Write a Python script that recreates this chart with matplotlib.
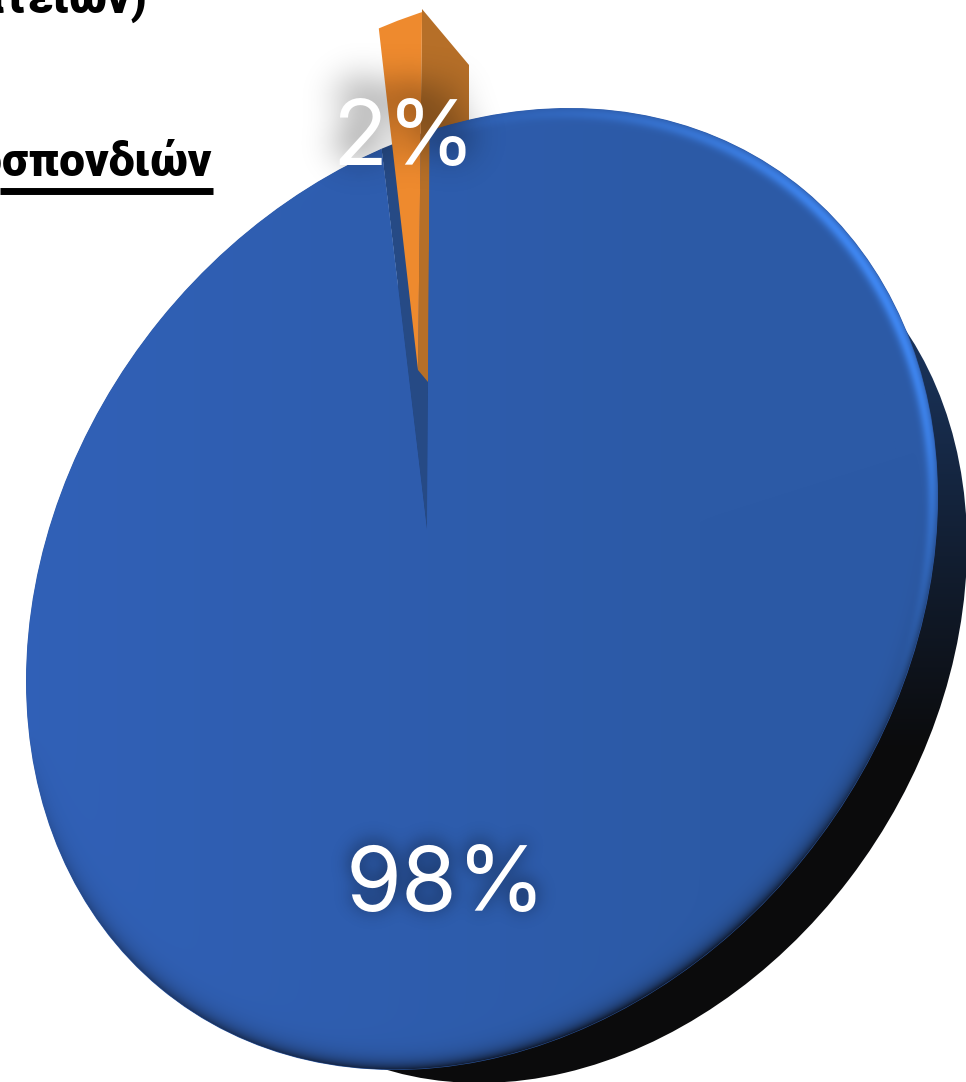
import numpy as np
import matplotlib
matplotlib.use("Agg")
import matplotlib.pyplot as plt
from matplotlib.path import Path
from matplotlib.patches import PathPatch, Wedge, Polygon
from matplotlib.transforms import Affine2D
from matplotlib.colors import to_rgb

# chart values
labels = ["98%", "2%"]
shares = [98, 2]
slice_colors = ["#2e5cab", "#ee8a2e"]
header_top = "Σωματείων)"
header_under = "Ομοσπονδιών"

W, H = 966, 1082
fig = plt.figure(figsize=(W / 100, H / 100), dpi=100)
ax = fig.add_axes([0, 0, 1, 1])

label_font = "Inter"
label_size = 65


# tilted ellipse, from its extreme points in the picture
def ellipse_matrix(sx, sy, sxy):
    return np.linalg.cholesky(np.array([[sx ** 2, sxy], [sxy, sy ** 2]]))


def ellipse_patch(center, mat):
    m = np.eye(3)
    m[:2, :2] = mat
    m[0, 2], m[1, 2] = center
    path = Path.unit_circle().transformed(Affine2D(m))
    patch = PathPatch(path, transform=ax.transData, fc="none", ec="none")
    ax.add_patch(patch)
    return patch


cx, cy = 482, 589
A = ellipse_matrix(456, 481, -42000)

yy, xx = np.mgrid[0:H, 0:W] + 0.5
extent = (0, W, H, 0)

# dark extruded body behind the top
body_clip = ellipse_patch((565, 640), ellipse_matrix(402, 443, -38000))
t = np.clip((yy - 250) / 500, 0, 1)[..., None]
body_img = (1 - t) * np.array(to_rgb("#1d3c6c")) + t * np.array(to_rgb("#0b0b0c"))
im = ax.imshow(body_img, extent=extent, zorder=1, interpolation="bilinear")
im.set_clip_path(body_clip)

# slices: angles come from the shares, the far reaching wedges are cut by the ellipse
apex = (427, 530)
start = 270.4
face = ellipse_patch((cx, cy), A)
sweep = 360 * shares[1] / sum(shares)
wall = Wedge(apex, 1500, start - sweep, start, fc="#264a85", ec="none", zorder=2)
ax.add_patch(wall)
wall.set_clip_path(face)

# exploded small slice with its side wall
side = Polygon([(422, 9), (469, 65), (469, 130), (428, 382), (418, 370)],
               fc="#b66f28", ec="none", zorder=3)
ax.add_patch(side)
lifted = ellipse_patch((cx - 6, cy - 119), A)
small = Wedge((418, 370), 600, start + 0.25 - sweep, start + 0.25, fc=slice_colors[1],
              ec="none", zorder=4)
ax.add_patch(small)
small.set_clip_path(lifted)

big = Wedge(apex, 1500, start, start - sweep + 360, fc=slice_colors[0], ec="none", zorder=5)
ax.add_patch(big)
big.set_clip_path(face)

# shading of the main slice: lit rim upper right, dark rim along the bottom
inv = np.linalg.inv(A)
dx, dy = xx - cx, yy - cy
ux = inv[0, 0] * dx + inv[0, 1] * dy
uy = inv[1, 0] * dx + inv[1, 1] * dy
r = np.hypot(ux, uy)
nx, ny = ux / np.maximum(r, 1e-6), uy / np.maximum(r, 1e-6)
sdx, sdy = A[0, 0] * nx + A[0, 1] * ny, A[1, 0] * nx + A[1, 1] * ny
sn = np.hypot(sdx, sdy)
sdx, sdy = sdx / sn, sdy / sn
edge = np.clip(1 - r, 0, 1)
lit = np.clip(sdx * 0.80 - sdy * 0.60, 0, 1) ** 4 * np.exp(-((edge - 0.012) / 0.012) ** 2)
shade = np.clip(sdx * 0.30 + sdy * 0.95, 0, 1) * np.exp(-edge / 0.016)
left = np.clip((700 - xx) / 700, 0, 1)[..., None]
face_img = (left * np.array(to_rgb("#3161b8")) + (1 - left) * np.array(to_rgb("#2c5aa6")))
lit, shade = lit[..., None], shade[..., None]
face_img = face_img * (1 - lit) + np.array(to_rgb("#3f86f0")) * lit
face_img = face_img * (1 - shade) + np.array(to_rgb("#0c1220")) * shade
# the image fades out at the rim, the wedge under it keeps the cut
face_rgba = np.dstack([face_img, np.clip((1 - r) * 450, 0, 1)])
im2 = ax.imshow(face_rgba, extent=extent, zorder=6, interpolation="bilinear")
im2.set_clip_path(big)


# blurred dark copy of a label, standing in for the text glow
def glow(text, x, y, sigma, power, off):
    tmp = plt.figure(figsize=(W / 100, H / 100), dpi=100)
    tmp.text(x / W, 1 - (y + off) / H, text, fontsize=label_size, ha="center", va="baseline",
             family=label_font, color="k")
    tmp.canvas.draw()
    a = 1 - np.asarray(tmp.canvas.buffer_rgba())[..., 0] / 255.0
    plt.close(tmp)
    k = np.exp(-0.5 * (np.arange(-3 * sigma, 3 * sigma + 1) / sigma) ** 2)
    k /= k.sum()
    a = np.apply_along_axis(lambda c: np.convolve(c, k, mode="same"), 0, a)
    a = np.apply_along_axis(lambda c: np.convolve(c, k, mode="same"), 1, a)
    rgba = np.zeros((H, W, 4))
    rgba[..., 3] = np.clip(a * power, 0, 0.6)
    ax.imshow(rgba, extent=extent, zorder=7, interpolation="bilinear")


glow(labels[1], 404, 165, 18, 1.0, -14)
glow(labels[0], 446, 911, 9, 0.6, -3)

ax.text(404, 165, labels[1], color="white", fontsize=label_size, ha="center", va="baseline",
        family=label_font, zorder=8)
ax.text(446, 911, labels[0], color="white", fontsize=label_size, ha="center", va="baseline",
        family=label_font, zorder=8)

# clipped headings of the page behind the chart
head_font = dict(family="Roboto", fontweight="black",
                 color="black", ha="right", va="baseline", zorder=9)
ax.text(147, 13, header_top, fontsize=33, **head_font)
ax.text(212, 176, header_under, fontsize=33, **head_font)
ax.plot([0, 213], [190.5, 190.5], color="black", lw=5, solid_capstyle="butt", zorder=9)

ax.set_xlim(0, W)
ax.set_ylim(H, 0)
ax.set_aspect("auto")
ax.axis("off")
fig.savefig("out.png", dpi=100, facecolor="white")
